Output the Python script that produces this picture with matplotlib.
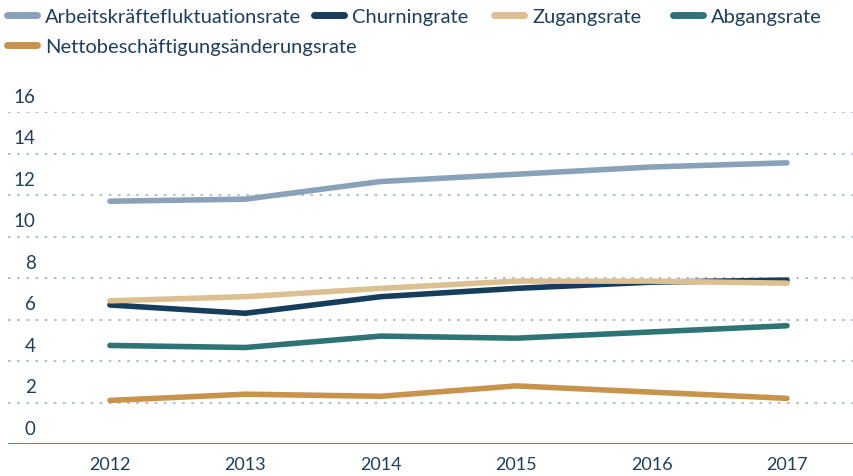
import matplotlib
matplotlib.use("Agg")
import matplotlib.pyplot as plt
from matplotlib.transforms import ScaledTranslation

plt.rcParams['font.family'] = ['Lato', 'DejaVu Sans']

# data
years = [2012, 2013, 2014, 2015, 2016, 2017]
series_names = ['Arbeitskräftefluktuationsrate', 'Churningrate', 'Zugangsrate',
                'Abgangsrate', 'Nettobeschäftigungsänderungsrate']
arbeitskraefte = [11.7, 11.8, 12.65, 13.0, 13.35, 13.55]
churning = [6.7, 6.3, 7.1, 7.5, 7.8, 7.9]
zugang = [6.9, 7.1, 7.5, 7.85, 7.85, 7.75]
abgang = [4.75, 4.65, 5.2, 5.1, 5.4, 5.7]
netto = [2.1, 2.4, 2.3, 2.8, 2.5, 2.2]
yticks = [0, 2, 4, 6, 8, 10, 12, 14, 16]

colors = ['#8aa2b9', '#163d5c', '#dcc092', '#2e7475', '#c8944b']
TEXT = '#1d3f5e'
GRID = '#9fb1c4'

fig = plt.figure(figsize=(8.54, 4.76), dpi=100)
ax = fig.add_axes([8/854, 32/476, 846/854, (444-112)/476])

lines = []
for vals, c, name in zip([arbeitskraefte, churning, zugang, abgang, netto], colors, series_names):
    ln, = ax.plot(years, vals, color=c, lw=4, solid_capstyle='round',
                  solid_joinstyle='round', label=name)
    lines.append(ln)

ax.set_xlim(2011.247, 2017.495)
ax.set_ylim(0, 16)
ax.set_xticks(years)
ax.set_yticks(yticks)
for y in yticks[1:]:
    ax.axhline(y, color=GRID, lw=1.2, ls=(0, (1.5, 4)), zorder=0)
ax.axhline(0, color='#4f7396', lw=1.3, zorder=1)

for s in ax.spines.values():
    s.set_visible(False)

ax.tick_params(axis='x', length=0, pad=9, labelsize=13, labelcolor=TEXT)
ax.tick_params(axis='y', length=0, pad=-20, labelsize=13.5, labelcolor=TEXT)
for lab in ax.get_yticklabels():
    lab.set_verticalalignment('bottom')
    lab.set_transform(lab.get_transform() + ScaledTranslation(0, 4.5/72, fig.dpi_scale_trans))

# legend: flow layout like the original
leg_kw = dict(frameon=False, fontsize=14.5, handlelength=1.5, handletextpad=0.4,
              borderaxespad=0, borderpad=0, labelcolor=TEXT)
legend_x = [7, 314, 494, 673]
for ln, x in zip(lines[:4], legend_x):
    lg = fig.legend(handles=[ln], loc='center left', bbox_to_anchor=(x/854, 1 - 17/476), **leg_kw)
    for h in lg.legend_handles:
        h.set_linewidth(5)
lg = fig.legend(handles=[lines[4]], loc='center left', bbox_to_anchor=(7/854, 1 - 47/476), **leg_kw)
for h in lg.legend_handles:
    h.set_linewidth(5)

fig.savefig('out.png', dpi=100)
